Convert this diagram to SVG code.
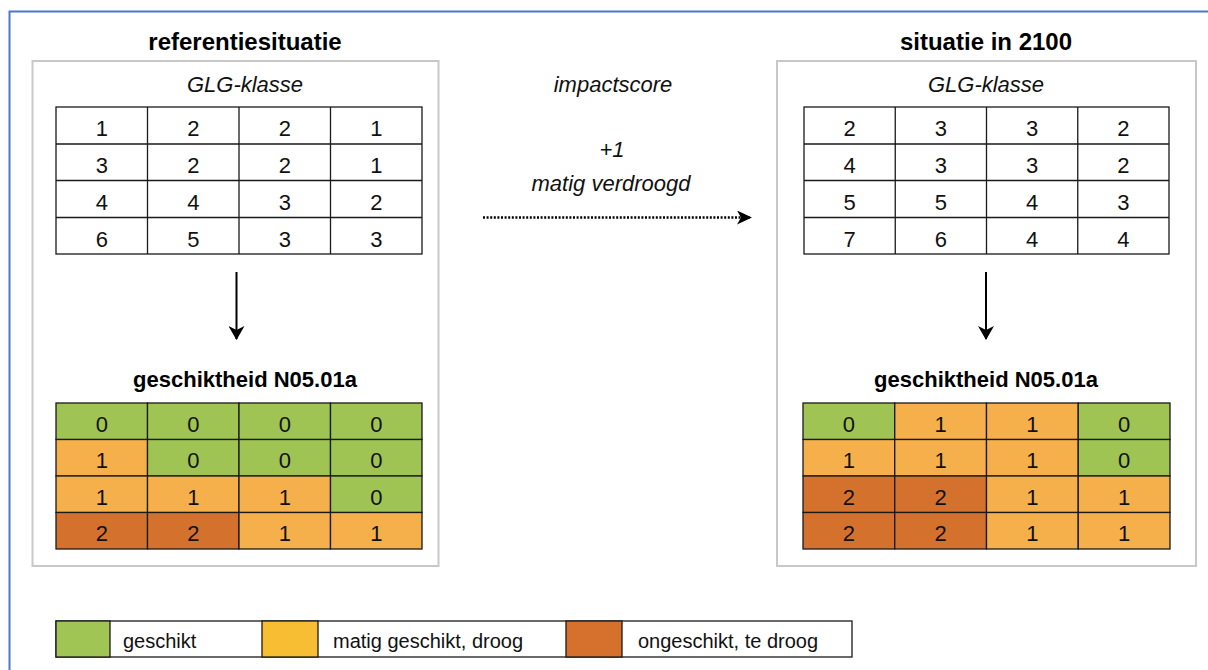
<svg xmlns="http://www.w3.org/2000/svg" width="1208" height="670" viewBox="0 0 1208 670">
  <defs>
    <style>
      .frame { fill: #ffffff; stroke: #4a78cc; stroke-width: 2; }
      .box { fill: #ffffff; stroke: #c8c8c8; stroke-width: 2; }
      .grid { fill: none; stroke: #1a1a1a; stroke-width: 1.3; }
      .cell { stroke: #1a1a1a; stroke-width: 1.3; }
      .g { fill: #9fc453; }
      .o { fill: #f5af4b; }
      .d { fill: #d4712c; }
      .title { font-family: "Liberation Sans", Arial, sans-serif; font-weight: bold; font-size: 24px; fill: #000; text-anchor: middle; }
      .sub { font-family: "Liberation Sans", Arial, sans-serif; font-weight: bold; font-size: 22px; fill: #000; text-anchor: middle; }
      .it { font-family: "Liberation Sans", Arial, sans-serif; font-style: italic; font-size: 22px; fill: #111; text-anchor: middle; }
      .num { font-family: "Liberation Sans", Arial, sans-serif; font-size: 22px; fill: #111; text-anchor: middle; }
      .leg { font-family: "Liberation Sans", Arial, sans-serif; font-size: 20px; fill: #111; }
      .link { fill: none; stroke: #000; stroke-width: 2; }
      .dotted { fill: none; stroke: #000; stroke-width: 2.5; stroke-dasharray: 2 1.6; }
    </style>
    <marker id="head" markerUnits="userSpaceOnUse" markerWidth="16" markerHeight="16" refX="13" refY="8" orient="auto" viewBox="0 0 16 16">
      <path d="M0,0 L14,8 L0,16 L4,8 Z" fill="#000"/>
    </marker>
    <marker id="headSmall" markerUnits="userSpaceOnUse" markerWidth="16" markerHeight="14" refX="13" refY="7" orient="auto" viewBox="0 0 16 14">
      <path d="M0,0 L15,7 L0,14 L4,7 Z" fill="#000"/>
    </marker>
  </defs>

  <rect width="1208" height="670" fill="#ffffff"/>

  <!-- outer frame, open to the right and bottom -->
  <path class="frame" d="M9.5,672 L9.5,11.5 L1212,11.5" fill="none"/>

  <!-- left panel: reference situation -->
  <g id="reference">
    <text class="title" x="245" y="50">referentiesituatie</text>
    <rect class="box" x="32.5" y="61" width="406" height="505"/>
    <text class="it" x="245" y="92">GLG-klasse</text>
  </g>

  <g id="reference-glg">
    <rect class="grid" x="56" y="107" width="366" height="147" fill="#fff"/>
    <path class="grid" d="M147.5,107 V254 M239,107 V254 M330.5,107 V254 M56,144 H422 M56,180.5 H422 M56,217.5 H422"/>
    <text class="num" x="101.75" y="136">1</text>
    <text class="num" x="193.25" y="136">2</text>
    <text class="num" x="284.75" y="136">2</text>
    <text class="num" x="376.25" y="136">1</text>
    <text class="num" x="101.75" y="173">3</text>
    <text class="num" x="193.25" y="173">2</text>
    <text class="num" x="284.75" y="173">2</text>
    <text class="num" x="376.25" y="173">1</text>
    <text class="num" x="101.75" y="210">4</text>
    <text class="num" x="193.25" y="210">4</text>
    <text class="num" x="284.75" y="210">3</text>
    <text class="num" x="376.25" y="210">2</text>
    <text class="num" x="101.75" y="246.5">6</text>
    <text class="num" x="193.25" y="246.5">5</text>
    <text class="num" x="284.75" y="246.5">3</text>
    <text class="num" x="376.25" y="246.5">3</text>
  </g>

  <g id="reference-suitability">
    <text class="sub" x="245" y="387">geschiktheid N05.01a</text>
    <rect class="cell g" x="56" y="403" width="91.5" height="36.5"/>
    <rect class="cell g" x="147.5" y="403" width="91.5" height="36.5"/>
    <rect class="cell g" x="239" y="403" width="91.5" height="36.5"/>
    <rect class="cell g" x="330.5" y="403" width="91.5" height="36.5"/>
    <rect class="cell o" x="56" y="439.5" width="91.5" height="36.5"/>
    <rect class="cell g" x="147.5" y="439.5" width="91.5" height="36.5"/>
    <rect class="cell g" x="239" y="439.5" width="91.5" height="36.5"/>
    <rect class="cell g" x="330.5" y="439.5" width="91.5" height="36.5"/>
    <rect class="cell o" x="56" y="476" width="91.5" height="36.5"/>
    <rect class="cell o" x="147.5" y="476" width="91.5" height="36.5"/>
    <rect class="cell o" x="239" y="476" width="91.5" height="36.5"/>
    <rect class="cell g" x="330.5" y="476" width="91.5" height="36.5"/>
    <rect class="cell d" x="56" y="512.5" width="91.5" height="36.5"/>
    <rect class="cell d" x="147.5" y="512.5" width="91.5" height="36.5"/>
    <rect class="cell o" x="239" y="512.5" width="91.5" height="36.5"/>
    <rect class="cell o" x="330.5" y="512.5" width="91.5" height="36.5"/>
    <text class="num" x="101.75" y="431.5">0</text>
    <text class="num" x="193.25" y="431.5">0</text>
    <text class="num" x="284.75" y="431.5">0</text>
    <text class="num" x="376.25" y="431.5">0</text>
    <text class="num" x="101.75" y="468">1</text>
    <text class="num" x="193.25" y="468">0</text>
    <text class="num" x="284.75" y="468">0</text>
    <text class="num" x="376.25" y="468">0</text>
    <text class="num" x="101.75" y="504.5">1</text>
    <text class="num" x="193.25" y="504.5">1</text>
    <text class="num" x="284.75" y="504.5">1</text>
    <text class="num" x="376.25" y="504.5">0</text>
    <text class="num" x="101.75" y="541">2</text>
    <text class="num" x="193.25" y="541">2</text>
    <text class="num" x="284.75" y="541">1</text>
    <text class="num" x="376.25" y="541">1</text>
  </g>

  <!-- middle: impact score label -->
  <g id="impact">
    <text class="it" x="613" y="92">impactscore</text>
    <text class="it" x="612" y="157">+1</text>
    <text class="it" x="611" y="191">matig verdroogd</text>
  </g>

  <!-- right panel: situation in 2100 -->
  <g id="future">
    <text class="title" x="986" y="50">situatie in 2100</text>
    <rect class="box" x="777" y="61" width="419" height="505"/>
    <text class="it" x="986" y="92">GLG-klasse</text>
  </g>

  <g id="future-glg">
    <rect class="grid" x="804" y="107" width="365" height="147" fill="#fff"/>
    <path class="grid" d="M895.25,107 V254 M986.5,107 V254 M1077.75,107 V254 M804,144 H1169 M804,180.5 H1169 M804,217.5 H1169"/>
    <text class="num" x="849.6" y="136">2</text>
    <text class="num" x="940.9" y="136">3</text>
    <text class="num" x="1032.1" y="136">3</text>
    <text class="num" x="1123.4" y="136">2</text>
    <text class="num" x="849.6" y="173">4</text>
    <text class="num" x="940.9" y="173">3</text>
    <text class="num" x="1032.1" y="173">3</text>
    <text class="num" x="1123.4" y="173">2</text>
    <text class="num" x="849.6" y="210">5</text>
    <text class="num" x="940.9" y="210">5</text>
    <text class="num" x="1032.1" y="210">4</text>
    <text class="num" x="1123.4" y="210">3</text>
    <text class="num" x="849.6" y="246.5">7</text>
    <text class="num" x="940.9" y="246.5">6</text>
    <text class="num" x="1032.1" y="246.5">4</text>
    <text class="num" x="1123.4" y="246.5">4</text>
  </g>

  <g id="future-suitability">
    <text class="sub" x="986" y="387">geschiktheid N05.01a</text>
    <rect class="cell g" x="803" y="403" width="91.75" height="36.5"/>
    <rect class="cell o" x="894.75" y="403" width="91.75" height="36.5"/>
    <rect class="cell o" x="986.5" y="403" width="91.75" height="36.5"/>
    <rect class="cell g" x="1078.25" y="403" width="91.75" height="36.5"/>
    <rect class="cell o" x="803" y="439.5" width="91.75" height="36.5"/>
    <rect class="cell o" x="894.75" y="439.5" width="91.75" height="36.5"/>
    <rect class="cell o" x="986.5" y="439.5" width="91.75" height="36.5"/>
    <rect class="cell g" x="1078.25" y="439.5" width="91.75" height="36.5"/>
    <rect class="cell d" x="803" y="476" width="91.75" height="36.5"/>
    <rect class="cell d" x="894.75" y="476" width="91.75" height="36.5"/>
    <rect class="cell o" x="986.5" y="476" width="91.75" height="36.5"/>
    <rect class="cell o" x="1078.25" y="476" width="91.75" height="36.5"/>
    <rect class="cell d" x="803" y="512.5" width="91.75" height="36.5"/>
    <rect class="cell d" x="894.75" y="512.5" width="91.75" height="36.5"/>
    <rect class="cell o" x="986.5" y="512.5" width="91.75" height="36.5"/>
    <rect class="cell o" x="1078.25" y="512.5" width="91.75" height="36.5"/>
    <text class="num" x="848.9" y="431.5">0</text>
    <text class="num" x="940.6" y="431.5">1</text>
    <text class="num" x="1032.4" y="431.5">1</text>
    <text class="num" x="1124.1" y="431.5">0</text>
    <text class="num" x="848.9" y="468">1</text>
    <text class="num" x="940.6" y="468">1</text>
    <text class="num" x="1032.4" y="468">1</text>
    <text class="num" x="1124.1" y="468">0</text>
    <text class="num" x="848.9" y="504.5">2</text>
    <text class="num" x="940.6" y="504.5">2</text>
    <text class="num" x="1032.4" y="504.5">1</text>
    <text class="num" x="1124.1" y="504.5">1</text>
    <text class="num" x="848.9" y="541">2</text>
    <text class="num" x="940.6" y="541">2</text>
    <text class="num" x="1032.4" y="541">1</text>
    <text class="num" x="1124.1" y="541">1</text>
  </g>

  <!-- connectors -->
  <g id="connectors">
    <line class="link" x1="236.5" y1="272" x2="236.5" y2="339" marker-end="url(#head)"/>
    <line class="link" x1="986" y1="272" x2="986" y2="339" marker-end="url(#head)"/>
    <line class="dotted" x1="483" y1="217.5" x2="750" y2="217.5" marker-end="url(#headSmall)"/>
  </g>

  <!-- legend -->
  <g id="legend">
    <rect x="56" y="621" width="796" height="36" fill="#fff" stroke="#1a1a1a" stroke-width="1.3"/>
    <rect x="56" y="621" width="54" height="36" fill="#a0c555" stroke="#1a1a1a" stroke-width="1.3"/>
    <rect x="262" y="621" width="56" height="36" fill="#f8be33" stroke="#1a1a1a" stroke-width="1.3"/>
    <rect x="566" y="621" width="56" height="36" fill="#d6712d" stroke="#1a1a1a" stroke-width="1.3"/>
    <text class="leg" x="123" y="648">geschikt</text>
    <text class="leg" x="333" y="648">matig geschikt, droog</text>
    <text class="leg" x="638" y="648">ongeschikt, te droog</text>
  </g>
</svg>
